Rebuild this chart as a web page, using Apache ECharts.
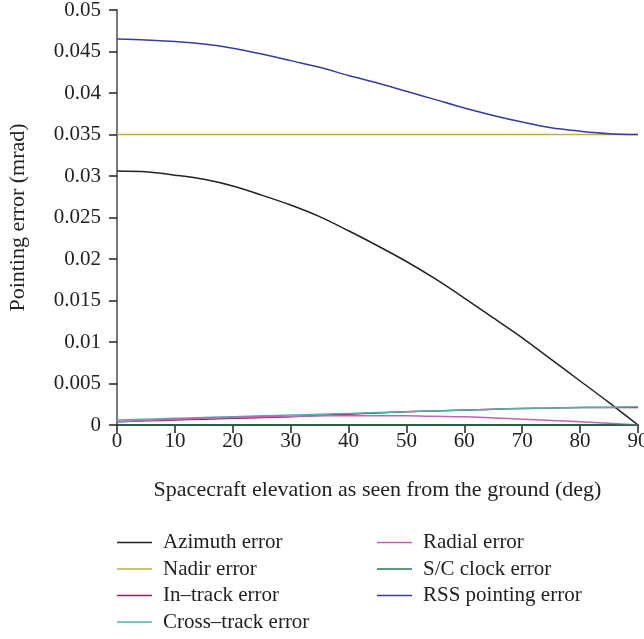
<!DOCTYPE html>
<html>
<head>
<meta charset="utf-8">
<script src="https://cdn.jsdelivr.net/npm/echarts@6/dist/echarts.min.js"></script>
<style>
  html, body { margin: 0; padding: 0; background: #fff; }
  #chart { width: 644px; height: 639px; }
</style>
</head>
<body>
<div id="chart"></div>
<script>
// elevation (deg)
var elevation = [0, 5, 10, 15, 20, 25, 30, 35, 40, 45, 50, 55, 60, 65, 70, 75, 80, 85, 90];

// pointing errors (mrad)
var azimuthErr    = [0.0306, 0.0305, 0.0301, 0.0296, 0.0288, 0.0277, 0.0265, 0.0251, 0.0234, 0.0216, 0.0197, 0.0176, 0.0153, 0.0129, 0.0105, 0.0079, 0.0053, 0.0027, 0];
var nadirErr      = [0.035, 0.035, 0.035, 0.035, 0.035, 0.035, 0.035, 0.035, 0.035, 0.035, 0.035, 0.035, 0.035, 0.035, 0.035, 0.035, 0.035, 0.035, 0.035];
var inTrackErr    = [0.0004, 0.0005, 0.0006, 0.0007, 0.0008, 0.0009, 0.0010, 0.00115, 0.0013, 0.00145, 0.0016, 0.0017, 0.0018, 0.0019, 0.0020, 0.00205, 0.0021, 0.0021, 0.0021];
var crossTrackErr = [0.0006, 0.0007, 0.0008, 0.0009, 0.0010, 0.0011, 0.0012, 0.0013, 0.0014, 0.0015, 0.0016, 0.0017, 0.0018, 0.0019, 0.0020, 0.00205, 0.0021, 0.00215, 0.0022];
var radialErr     = [0.0004, 0.00055, 0.0007, 0.0008, 0.0009, 0.001, 0.00105, 0.0011, 0.0011, 0.0011, 0.0011, 0.00105, 0.001, 0.00085, 0.0007, 0.00055, 0.0004, 0.0002, 0];
var clockErr      = [0, 0, 0, 0, 0, 0, 0, 0, 0, 0, 0, 0, 0, 0, 0, 0, 0, 0, 0];
var rssErr        = [0.0465, 0.0464, 0.0462, 0.0459, 0.0454, 0.0447, 0.0439, 0.0431, 0.0421, 0.0412, 0.0402, 0.0392, 0.0382, 0.0373, 0.0365, 0.0358, 0.0354, 0.0351, 0.0350];

var names  = ['Azimuth error', 'Nadir error', 'In\u2013track error', 'Cross\u2013track error', 'Radial error', 'S/C clock error', 'RSS pointing error'];
var values = [azimuthErr, nadirErr, inTrackErr, crossTrackErr, radialErr, clockErr, rssErr];
var colors = ['#222222', '#b3b34d', '#9a1c5e', '#4fb3a8', '#c860b8', '#1f7a4f', '#3b3b99'];

var font = 'Liberation Serif';

function pairs(ys) {
    return elevation.map(function (x, i) { return [x, ys[i]]; });
}

var series = names.map(function (n, i) {
    return {
        name: n,
        type: 'line',
        data: pairs(values[i]),
        showSymbol: false,
        symbol: 'none',
        smooth: 0.3,
        lineStyle: { color: colors[i], width: 1.5 },
        itemStyle: { color: colors[i] },
        z: 3
    };
});

var legendBase = {
    orient: 'vertical',
    top: 532,
    height: 110,
    padding: 0,
    icon: 'rect',
    itemWidth: 35,
    itemHeight: 1.5,
    itemGap: 5.5,
    textStyle: { fontFamily: font, fontSize: 21, lineHeight: 21, color: '#222', padding: [0, 0, 0, 6] }
};

var option = {
    backgroundColor: '#fff',
    animation: false,
    color: colors,
    grid: { left: 117, right: 6, top: 10, bottom: 214, containLabel: false, outerBoundsMode: 'none' },
    legend: [
        Object.assign({}, legendBase, { left: 117, data: names.slice(0, 4) }),
        Object.assign({}, legendBase, { left: 377, data: names.slice(4) })
    ],
    xAxis: [{
        type: 'value',
        min: 0, max: 90, interval: 10,
        name: 'Spacecraft elevation as seen from the ground (deg)',
        nameLocation: 'middle',
        nameGap: 54,
        nameTextStyle: { fontFamily: font, fontSize: 22, color: '#222' },
        axisLine: { lineStyle: { color: '#222', width: 1.5 } },
        axisTick: { length: 8, lineStyle: { color: '#222', width: 1.5 } },
        axisLabel: { fontFamily: font, fontSize: 21, color: '#222', margin: 6 },
        splitLine: { show: false }
    }, {
        type: 'value',
        position: 'top',
        min: 0, max: 90,
        axisLine: { show: true, lineStyle: { color: '#222', width: 1.5 } },
        axisTick: { show: false },
        axisLabel: { show: false },
        splitLine: { show: false }
    }],
    yAxis: [{
        type: 'value',
        min: 0, max: 0.05, interval: 0.005,
        name: 'Pointing error (mrad)',
        nameLocation: 'middle',
        nameRotate: 90,
        nameGap: 88,
        nameTextStyle: { fontFamily: font, fontSize: 22, color: '#222' },
        axisLine: { show: true, lineStyle: { color: '#222', width: 1.5 } },
        axisTick: { show: true, length: 8, lineStyle: { color: '#222', width: 1.5 } },
        axisLabel: { fontFamily: font, fontSize: 21, color: '#222', margin: 16 },
        splitLine: { show: false }
    }, {
        type: 'value',
        position: 'right',
        min: 0, max: 0.05,
        axisLine: { show: true, lineStyle: { color: '#777', width: 2 } },
        axisTick: { show: false },
        axisLabel: { show: false },
        splitLine: { show: false }
    }],
    series: series
};

echarts.init(document.getElementById('chart')).setOption(option);
</script>
</body>
</html>
